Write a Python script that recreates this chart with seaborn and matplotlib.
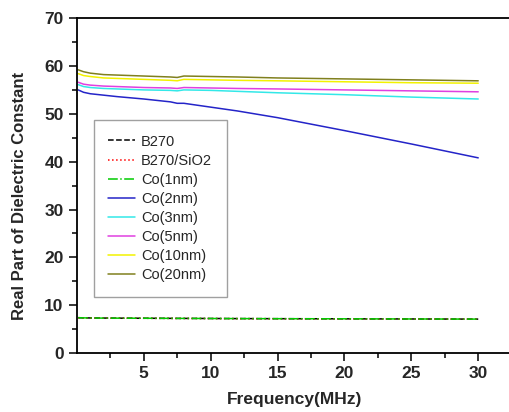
import matplotlib
matplotlib.use("Agg")
import matplotlib.pyplot as plt
import seaborn as sns

# frequency points (MHz)
freq = [0.1, 0.5, 1, 2, 3, 5, 7, 7.5, 8, 10, 12, 15, 20, 25, 30]

b270 = [7.40, 7.36, 7.34, 7.32, 7.30, 7.28, 7.26, 7.25, 7.25, 7.23, 7.21, 7.19, 7.16, 7.13, 7.10]
b270_sio2 = [7.38, 7.35, 7.33, 7.31, 7.29, 7.27, 7.25, 7.24, 7.24, 7.22, 7.20, 7.18, 7.15, 7.12, 7.09]
co1 = [7.39, 7.36, 7.33, 7.31, 7.30, 7.28, 7.26, 7.25, 7.25, 7.23, 7.21, 7.19, 7.16, 7.13, 7.10]
co2 = [55.0, 54.5, 54.2, 53.9, 53.6, 53.1, 52.5, 52.2, 52.2, 51.4, 50.6, 49.2, 46.5, 43.7, 40.8]
co3 = [56.1, 55.7, 55.5, 55.3, 55.2, 55.0, 54.9, 54.8, 55.0, 54.9, 54.7, 54.4, 54.0, 53.5, 53.1]
co5 = [56.6, 56.2, 56.0, 55.8, 55.7, 55.5, 55.4, 55.3, 55.5, 55.4, 55.3, 55.2, 55.0, 54.8, 54.6]
co10 = [58.4, 58.0, 57.8, 57.5, 57.4, 57.2, 57.0, 56.9, 57.2, 57.1, 57.0, 56.9, 56.7, 56.5, 56.4]
co20 = [59.2, 58.8, 58.5, 58.2, 58.1, 57.9, 57.7, 57.6, 57.9, 57.8, 57.7, 57.5, 57.3, 57.1, 56.9]

labels = ["B270", "B270/SiO2", "Co(1nm)", "Co(2nm)", "Co(3nm)", "Co(5nm)", "Co(10nm)", "Co(20nm)"]
series = [b270, b270_sio2, co1, co2, co3, co5, co10, co20]
colors = ["black", "#ff0000", "#00cc00", "#2424c8", "#33e8e8", "#e040e0", "#f2f200", "#80801e"]
styles = ["--", ":", "-.", "-", "-", "-", "-", "-"]

sns.set_style("ticks")
plt.rcParams['font.family'] = ['Liberation Sans', 'DejaVu Sans']

fig = plt.figure(figsize=(5.09, 4.12), dpi=100)
ax = fig.add_axes([0.151, 0.143, 0.849, 0.813])

for lab, ys, c, ls in zip(labels, series, colors, styles):
    sns.lineplot(x=freq, y=ys, ax=ax, color=c, linestyle=ls, linewidth=1.1, label=lab)

ax.set_xlim(0, 32.3)
ax.set_ylim(0, 70)
ax.set_xticks([5, 10, 15, 20, 25, 30])
ax.set_xticks([2.5, 7.5, 12.5, 17.5, 22.5, 27.5], minor=True)
ax.set_yticks(range(0, 71, 10))
ax.set_yticks(range(5, 70, 10), minor=True)
ax.tick_params(axis='both', which='major', direction='out', length=6, width=1.3,
               labelsize=12.5)
ax.tick_params(axis='both', which='minor', direction='out', length=3.5, width=1.3)
for t in ax.get_xticklabels() + ax.get_yticklabels():
    t.set_fontweight('bold')

ax.spines['right'].set_visible(False)
for s in ['left', 'bottom', 'top']:
    ax.spines[s].set_linewidth(1.3)
    ax.spines[s].set_color('black')

ax.set_xlabel("Frequency(MHz)", fontsize=12.5, fontweight='bold')
ax.xaxis.set_label_coords(0.503, -0.115)
ax.set_ylabel("Real Part of Dielectric Constant", fontsize=12, fontweight='bold')
ax.yaxis.set_label_coords(-0.115, 0.469)

leg = ax.legend(loc='upper left', bbox_to_anchor=(0.039, 0.696), fontsize=10.5,
                frameon=True, fancybox=False, handlelength=1.8, handletextpad=0.45,
                labelspacing=0.35, borderpad=1.0, borderaxespad=0)
leg.get_frame().set_edgecolor('#888888')
leg.get_frame().set_linewidth(1.0)

fig.savefig("out.png", dpi=100)
